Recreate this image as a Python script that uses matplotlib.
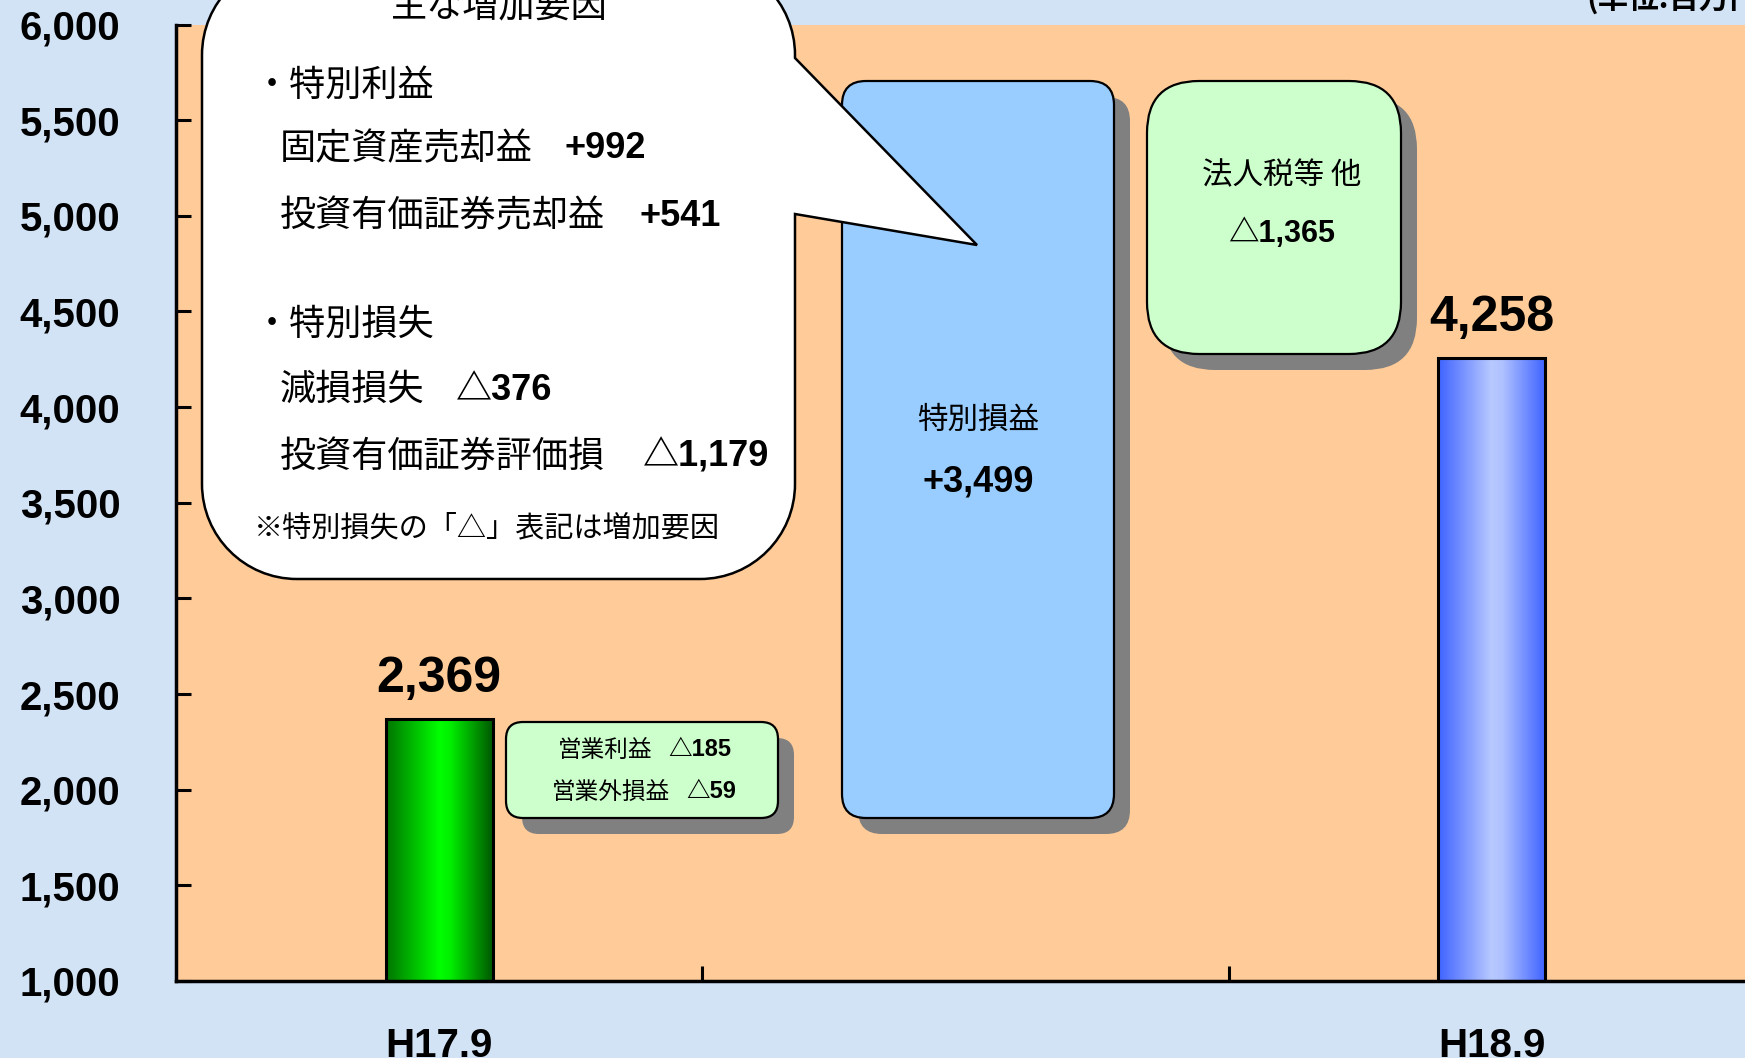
import numpy as np
import matplotlib
matplotlib.use("Agg")
import matplotlib.pyplot as plt
from matplotlib.patches import FancyBboxPatch, PathPatch
from matplotlib.path import Path
from matplotlib.colors import to_rgb
from matplotlib.ticker import FuncFormatter, MultipleLocator

# ---- data ----
categories = ["H17.9", "", "H18.9"]
period_labels = ["H17.9", "H18.9"]
period_values = [2369, 4258]

op_items = ["営業利益", "営業外損益"]
op_values = [-185, -59]
special_label = "特別損益"
special_value = 3499
tax_label = "法人税等 他"
tax_value = -1365

gain_items = ["固定資産売却益", "投資有価証券売却益"]
gain_values = [992, 541]
loss_items = ["減損損失", "投資有価証券評価損"]
loss_values = [-376, -1179]

y_ticks = [1000, 1500, 2000, 2500, 3000, 3500, 4000, 4500, 5000, 5500, 6000]
unit_text = "(単位:百万円)"
bubble_title = "主な増加要因"
note_text = "※特別損失の「△」表記は増加要因"


def fmt_change(v):
    return ("+{:,}" if v > 0 else "△{:,}").format(abs(v))


CJK = ["Noto Sans CJK JP", "DejaVu Sans"]
NUM = ["Liberation Sans", "Noto Sans CJK JP", "DejaVu Sans"]
plt.rcParams["font.family"] = NUM

W, H = 1745, 1058
fig = plt.figure(figsize=(W / 100, H / 100), dpi=100)
fig.patch.set_facecolor("#D3E3F6")

ax = fig.add_axes([176 / W, 1 - 981 / H, (1755 - 176) / W, (981 - 24.5) / H])
ax.set_facecolor("#FFCC99")

# bars with horizontal gradient
grad_stops = {
    "H17.9": ["#007400", "#00FF00", "#00F000", "#005800"],
    "H18.9": ["#3F63FF", "#B8C9FF", "#B0C2FF", "#4064FF"],
}
xpos = [categories.index(p) for p in period_labels]
bars = ax.bar(xpos, period_values, width=0.203, bottom=0, color="none",
              edgecolor="black", linewidth=2.2, zorder=3)
for rect, lab in zip(bars, period_labels):
    stops = [to_rgb(c) for c in grad_stops[lab]]
    t = np.linspace(0, 1, 256)
    pos = [0, 0.5, 0.6, 1]
    img = np.stack([np.interp(t, pos, [s[i] for s in stops]) for i in range(3)], axis=-1)[None, :, :]
    x0 = rect.get_x()
    im = ax.imshow(img, extent=[x0, x0 + rect.get_width(), y_ticks[0], rect.get_height()],
                   aspect="auto", zorder=2)
    im.set_clip_path(rect)
ax.set_xlim(-0.5, len(categories) - 0.5)
ax.set_ylim(y_ticks[0], y_ticks[-1])

ax.bar_label(bars, labels=["{:,}".format(v) for v in period_values], padding=12,
             fontsize=36, fontweight="bold")

for s in ["top", "right"]:
    ax.spines[s].set_visible(False)
for s in ["left", "bottom"]:
    ax.spines[s].set_linewidth(2.5)

ax.yaxis.set_major_locator(MultipleLocator(500))
ax.yaxis.set_major_formatter(FuncFormatter(lambda v, p: "{:,.0f}".format(v)))
ax.tick_params(axis="y", direction="in", length=11, width=2.2, pad=40,
               labelsize=29)
for t in ax.get_yticklabels():
    t.set_fontweight("bold")

ax.set_xticks(range(len(categories)))
ax.set_xticklabels(categories, fontsize=29, fontweight="bold")
ax.set_xticks([i + 0.5 for i in range(len(categories) - 1)], minor=True)
ax.tick_params(axis="x", which="major", length=0, pad=33)
ax.tick_params(axis="x", which="minor", direction="in", length=11, width=2.2)

# ---- overlay in pixel coordinates ----
ov = fig.add_axes([0, 0, 1, 1], zorder=5)
ov.set_xlim(0, W)
ov.set_ylim(H, 0)
ov.axis("off")
ov.patch.set_alpha(0)

SH = 16  # shadow offset


def box(x0, y0, x1, y1, r, fc):
    ov.add_patch(FancyBboxPatch((x0 + SH, y0 + SH), x1 - x0, y1 - y0,
                                boxstyle="round,pad=0,rounding_size=%g" % r,
                                fc="#808080", ec="none", zorder=1))
    ov.add_patch(FancyBboxPatch((x0, y0), x1 - x0, y1 - y0,
                                boxstyle="round,pad=0,rounding_size=%g" % r,
                                fc=fc, ec="black", lw=1.6, zorder=2))


# small box: operating items
box(506, 722, 778, 818, 17, "#CCFFCC")
op_label_right = [652, 670]
op_num_left = [668, 686]
for i, (lab, v) in enumerate(zip(op_items, op_values)):
    yy = 750 + i * 42
    ov.text(op_label_right[i], yy, lab, family=CJK, fontsize=17, ha="right",
            va="center", zorder=3)
    ov.text(op_num_left[i], yy, fmt_change(v), fontsize=17, fontweight="bold",
            ha="left", va="center", zorder=3)

# middle box: special items
box(842, 81, 1114, 818, 24, "#99CCFF")
ov.text(978, 420, special_label, family=CJK, fontsize=22, ha="center", va="center", zorder=3)
ov.text(978, 482, fmt_change(special_value), fontsize=26, fontweight="bold",
        ha="center", va="center", zorder=3)

# right box: taxes
box(1147, 81, 1401, 354, 52, "#CCFFCC")
ov.text(1282, 176, tax_label, family=CJK, fontsize=22, ha="center", va="center", zorder=3)
ov.text(1282, 234, fmt_change(tax_value), fontsize=22, fontweight="bold",
        ha="center", va="center", zorder=3)

# speech bubble
L, R, T, B, r = 202, 795, -40, 579, 95
k = 0.5523 * r
tail = [(R, 58), (977, 245), (R, 214)]
verts = [(L + r, T), (R - r, T),
         (R - r + k, T), (R, T + r - k), (R, T + r),
         tail[0], tail[1], tail[2],
         (R, B - r),
         (R, B - r + k), (R - r + k, B), (R - r, B),
         (L + r, B),
         (L + r - k, B), (L, B - r + k), (L, B - r),
         (L, T + r),
         (L, T + r - k), (L + r - k, T), (L + r, T),
         (L + r, T)]
codes = [Path.MOVETO, Path.LINETO,
         Path.CURVE4, Path.CURVE4, Path.CURVE4,
         Path.LINETO, Path.LINETO, Path.LINETO,
         Path.LINETO,
         Path.CURVE4, Path.CURVE4, Path.CURVE4,
         Path.LINETO,
         Path.CURVE4, Path.CURVE4, Path.CURVE4,
         Path.LINETO,
         Path.CURVE4, Path.CURVE4, Path.CURVE4,
         Path.CLOSEPOLY]
ov.add_patch(PathPatch(Path(verts, codes), fc="white", ec="black", lw=1.8, zorder=6))

ov.text(499, 6, bubble_title, family=CJK, fontsize=26, ha="center", va="center", zorder=7)
ov.text(254, 86, "・特別利益", family=CJK, fontsize=26, ha="left", va="center", zorder=7)
gain_num_x = [565, 640]
for i, (lab, v) in enumerate(zip(gain_items, gain_values)):
    yy = 149 + i * 67
    ov.text(280, yy, lab, family=CJK, fontsize=26, ha="left", va="center", zorder=7)
    ov.text(gain_num_x[i], yy, fmt_change(v), fontsize=26, fontweight="bold",
            ha="left", va="center", zorder=7)
ov.text(254, 325, "・特別損失", family=CJK, fontsize=26, ha="left", va="center", zorder=7)
loss_num_x = [456, 643]
for i, (lab, v) in enumerate(zip(loss_items, loss_values)):
    yy = 390 + i * 67
    ov.text(280, yy, lab, family=CJK, fontsize=26, ha="left", va="center", zorder=7)
    ov.text(loss_num_x[i], yy, fmt_change(v), fontsize=26, fontweight="bold",
            ha="left", va="center", zorder=7)
ov.text(254, 528, note_text, family=CJK, fontsize=21, ha="left", va="center", zorder=7)

ov.text(1586, 15, unit_text, family=CJK, fontsize=22, fontweight="bold",
        ha="left", va="bottom", zorder=7)

fig.savefig("out.png", dpi=100, facecolor=fig.get_facecolor())
